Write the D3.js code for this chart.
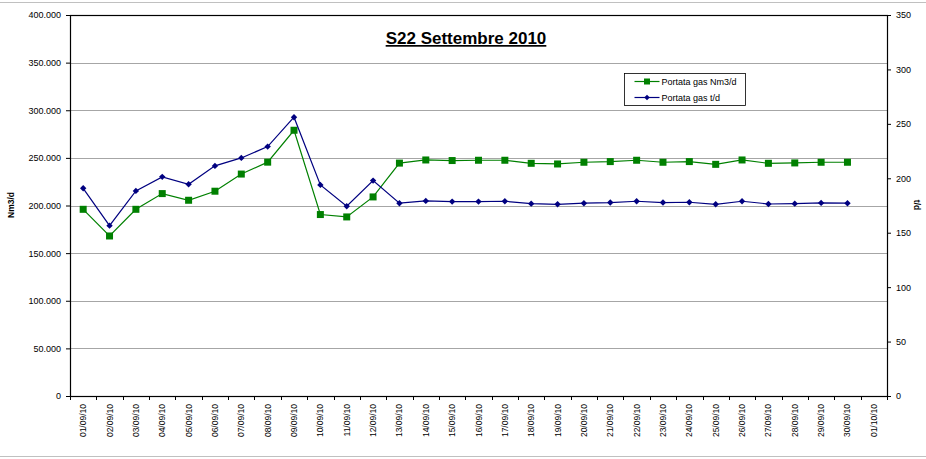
<!DOCTYPE html>
<html>
<head>
<meta charset="utf-8">
<script src="https://cdn.jsdelivr.net/npm/d3@7"></script>
<style>
  body { margin: 0; background: #fff; }
  svg { display: block; font-family: "Liberation Sans", Arial, sans-serif; }
</style>
</head>
<body>
<div id="chart"></div>
<script>
const dates = ["01/09/10","02/09/10","03/09/10","04/09/10","05/09/10","06/09/10","07/09/10","08/09/10",
  "09/09/10","10/09/10","11/09/10","12/09/10","13/09/10","14/09/10","15/09/10","16/09/10","17/09/10",
  "18/09/10","19/09/10","20/09/10","21/09/10","22/09/10","23/09/10","24/09/10","25/09/10","26/09/10",
  "27/09/10","28/09/10","29/09/10","30/09/10","01/10/10"];

// Portata gas Nm3/d (asse sinistro)
const portataNm3 = [196000,168000,196000,212500,205500,215000,233000,245500,279000,190500,188000,209000,
  244500,247800,247200,247500,247500,244300,243600,245400,246100,247500,245400,246100,243200,247800,
  244300,244700,245400,245400];

// Portata gas t/d (asse destro)
const portataTd = [190.8,156.5,188.4,201.3,194.5,211.4,218.7,229.1,256.1,193.9,174.3,197.9,
  177.1,179.2,178.6,178.6,178.9,176.7,176.1,177.1,177.7,178.9,177.7,178.0,176.1,178.9,
  176.4,176.7,177.4,177.1];

const leftTicks = [0,50000,100000,150000,200000,250000,300000,350000,400000];
const rightTicks = [0,50,100,150,200,250,300,350];

const W = 926, H = 459;
const m = { left: 70, right: 887, top: 15, bottom: 396 };

const svg = d3.select("#chart").append("svg")
    .attr("width", W)
    .attr("height", H);

// bordo esterno del grafico
svg.append("line").attr("x1", 0).attr("x2", W).attr("y1", 2.5).attr("y2", 2.5)
    .attr("stroke", "#c0c0c0");
svg.append("line").attr("x1", 0).attr("x2", W).attr("y1", 456.5).attr("y2", 456.5)
    .attr("stroke", "#c0c0c0");

const x = d3.scaleBand().domain(dates).range([m.left, m.right]);
const yL = d3.scaleLinear().domain([0, 400000]).range([m.bottom, m.top]);
const yR = d3.scaleLinear().domain([0, 350]).range([m.bottom, m.top]);

const it = d3.formatLocale({ decimal: ",", thousands: ".", grouping: [3], currency: ["", ""] });
const fmt = it.format(",.0f");

// griglia
svg.append("g")
    .selectAll("line")
    .data(leftTicks.filter(t => t > 0 && t < 400000))
    .enter().append("line")
    .attr("x1", m.left).attr("x2", m.right)
    .attr("y1", d => Math.round(yL(d)) + 0.5)
    .attr("y2", d => Math.round(yL(d)) + 0.5)
    .attr("stroke", "#a6a6a6")
    .attr("stroke-width", 1);

// asse sinistro
const axL = svg.append("g")
    .attr("transform", `translate(${m.left},0)`)
    .call(d3.axisLeft(yL).tickValues(leftTicks).tickFormat(fmt).tickSize(4).tickPadding(5));
axL.select(".domain").remove();
axL.selectAll("line").attr("stroke", "#000");
axL.selectAll("text").style("font-size", "9px").attr("fill", "#000");

// asse destro
const axR = svg.append("g")
    .attr("transform", `translate(${m.right},0)`)
    .call(d3.axisRight(yR).tickValues(rightTicks).tickSize(4).tickPadding(5));
axR.select(".domain").remove();
axR.selectAll("line").attr("stroke", "#000");
axR.selectAll("text").style("font-size", "9px").attr("fill", "#000");

// tacche asse x tra le categorie
const bounds = dates.map(d => x(d)).concat([x.range()[1]]);
svg.append("g")
    .selectAll("line")
    .data(bounds)
    .enter().append("line")
    .attr("x1", d => Math.round(d) + 0.5).attr("x2", d => Math.round(d) + 0.5)
    .attr("y1", m.bottom).attr("y2", m.bottom + 4)
    .attr("stroke", "#000");

// etichette asse x
svg.append("g")
    .selectAll("text")
    .data(dates)
    .enter().append("text")
    .attr("transform", d => `translate(${x(d) + x.bandwidth() / 2 + 3},${m.bottom + 8}) rotate(-90)`)
    .attr("text-anchor", "end")
    .style("font-size", "8.5px")
    .text(d => d);

// riquadro area del grafico
svg.append("rect")
    .attr("x", m.left + 0.5).attr("y", m.top + 0.5)
    .attr("width", m.right - m.left).attr("height", m.bottom - m.top)
    .attr("fill", "none")
    .attr("stroke", "#000")
    .attr("stroke-width", 1.2);

const cx = (d, i) => x(dates[i]) + x.bandwidth() / 2;

// serie Nm3/d
const lineL = d3.line().x(cx).y(d => yL(d));
svg.append("path")
    .datum(portataNm3)
    .attr("d", lineL)
    .attr("fill", "none")
    .attr("stroke", "#008000")
    .attr("stroke-width", 1.2);
svg.append("g")
    .selectAll("rect")
    .data(portataNm3)
    .enter().append("rect")
    .attr("x", (d, i) => cx(d, i) - 3.5)
    .attr("y", d => yL(d) - 3.5)
    .attr("width", 7).attr("height", 7)
    .attr("fill", "#008000");

// serie t/d
const lineR = d3.line().x(cx).y(d => yR(d));
svg.append("path")
    .datum(portataTd)
    .attr("d", lineR)
    .attr("fill", "none")
    .attr("stroke", "#000080")
    .attr("stroke-width", 1.2);
svg.append("g")
    .selectAll("path")
    .data(portataTd)
    .enter().append("path")
    .attr("d", d3.symbol(d3.symbolDiamond2, 26))
    .attr("transform", (d, i) => `translate(${cx(d, i)},${yR(d)})`)
    .attr("fill", "#000080");

// titoli assi
svg.append("text")
    .attr("transform", "translate(14,205) rotate(-90)")
    .attr("text-anchor", "middle")
    .style("font-size", "8.5px")
    .style("font-weight", "bold")
    .text("Nm3/d");
svg.append("text")
    .attr("transform", "translate(914,205) rotate(90)")
    .attr("text-anchor", "middle")
    .style("font-size", "8.5px")
    .style("font-weight", "bold")
    .text("t/d");

// titolo
svg.append("text")
    .attr("x", 466).attr("y", 44)
    .attr("text-anchor", "middle")
    .style("font-size", "17px")
    .style("font-weight", "bold")
    .style("text-decoration", "underline")
    .text("S22 Settembre 2010");

// legenda
const legend = svg.append("g").attr("transform", "translate(624.5,73.5)");
legend.append("rect")
    .attr("width", 121).attr("height", 32)
    .attr("fill", "#fff")
    .attr("stroke", "#000")
    .attr("stroke-width", 0.8);
const items = [
  { name: "Portata gas Nm3/d", color: "#008000", mark: "square" },
  { name: "Portata gas t/d", color: "#000080", mark: "diamond" }
];
items.forEach((it, i) => {
    const gy = 8 + i * 16;
    legend.append("line")
        .attr("x1", 10).attr("x2", 35).attr("y1", gy).attr("y2", gy)
        .attr("stroke", it.color).attr("stroke-width", 1.2);
    if (it.mark === "square") {
        legend.append("rect").attr("x", 19.5).attr("y", gy - 3).attr("width", 6).attr("height", 6)
            .attr("fill", it.color);
    } else {
        legend.append("path").attr("d", d3.symbol(d3.symbolDiamond2, 20))
            .attr("transform", `translate(22.5,${gy})`).attr("fill", it.color);
    }
    legend.append("text")
        .attr("x", 37).attr("y", gy + 3)
        .style("font-size", "9px")
        .text(it.name);
});
</script>
</body>
</html>
